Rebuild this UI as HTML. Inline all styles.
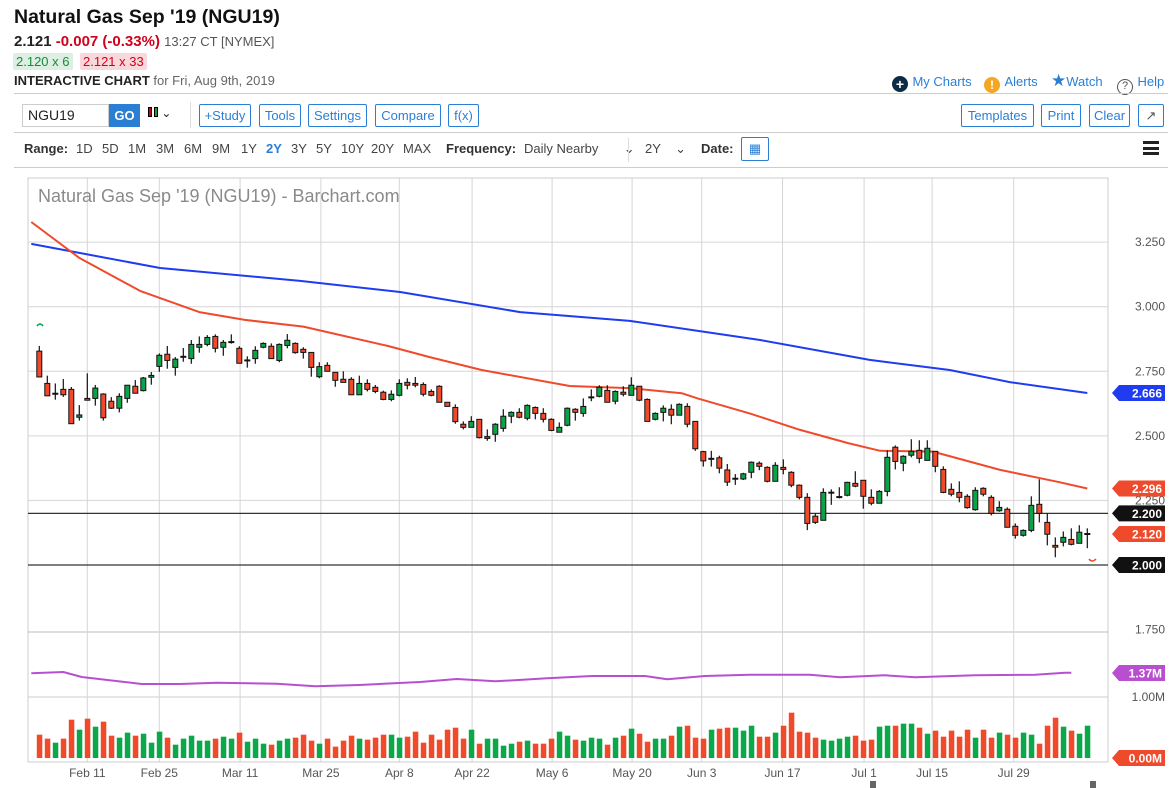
<!DOCTYPE html>
<html><head><meta charset="utf-8">
<style>
*{margin:0;padding:0;box-sizing:border-box}
body{width:1175px;height:788px;background:#fff;font-family:"Liberation Sans",sans-serif;position:relative;overflow:hidden;color:#222}
.a{position:absolute;white-space:nowrap}
.btn{position:absolute;top:104px;height:23px;border:1px solid #2a7fd5;border-radius:2px;color:#2a7fd5;font-size:13px;line-height:21px;text-align:center}
.hr{position:absolute;left:14px;width:1154px;height:1px;background:#ccc}
.rg{position:absolute;top:141px;font-size:13px;color:#444}
.lnk{color:#2a7fd5;font-size:13px}
</style></head><body>
<div class="a" style="left:14px;top:6px;font-size:19.5px;font-weight:bold;color:#111">Natural Gas Sep '19 (NGU19)</div>
<div class="a" style="left:14px;top:33px;font-size:15px"><b>2.121</b> <b style="color:#d0021b">-0.007 (-0.33%)</b> <span style="font-size:13px;color:#555">13:27 CT [NYMEX]</span></div>
<div class="a" style="left:13px;top:53px;height:17px;width:60px;padding:0 3px;background:#dcefe2;color:#1a8a3a;font-size:13px;line-height:17px;border-radius:2px">2.120 x 6</div>
<div class="a" style="left:80px;top:53px;height:17px;padding:0 3px;background:#f7d9db;color:#d0021b;font-size:13px;line-height:17px;border-radius:2px">2.121 x 33</div>
<div class="a" style="left:14px;top:73px;font-size:13px;color:#666"><b style="color:#222">INTERACTIVE CHART</b> for Fri, Aug 9th, 2019</div>
<div class="a" style="left:892px;top:73px"><span style="display:inline-block;width:16px;height:16px;border-radius:8px;background:#0d2b45;color:#fff;font-size:14px;line-height:16px;text-align:center;font-weight:bold;vertical-align:-3px">+</span> <span class="lnk">My Charts</span></div>
<div class="a" style="left:984px;top:73px"><span style="display:inline-block;width:16px;height:16px;border-radius:8px;background:#f5a623;color:#fff;font-size:12px;line-height:16px;text-align:center;font-weight:bold;vertical-align:-3px">!</span> <span class="lnk">Alerts</span></div>
<div class="a" style="left:1051px;top:71px"><span style="color:#2a7fd5;font-size:17px">★</span><span class="lnk">Watch</span></div>
<div class="a" style="left:1117px;top:73px"><span style="display:inline-block;width:16px;height:16px;border-radius:8px;border:1.5px solid #555;color:#555;font-size:11px;line-height:13px;text-align:center;vertical-align:-3px">?</span> <span class="lnk">Help</span></div>
<div class="hr" style="top:93px"></div>
<div class="a" style="left:22px;top:104px;width:87px;height:23px;border:1px solid #ccc;font-size:14px;line-height:21px;padding-left:5px">NGU19</div>
<div class="a" style="left:109px;top:104px;width:31px;height:23px;background:#2a7fd5;color:#fff;font-weight:bold;font-size:13px;line-height:23px;text-align:center">GO</div>
<div class="a" style="left:148px;top:106px;font-size:12px"><span style="display:inline-block;width:4px;height:10px;background:#d0021b;border:1px solid #000"></span><span style="display:inline-block;width:4px;height:10px;background:#1a9a48;border:1px solid #000;margin-left:2px"></span> ⌄</div>
<div class="a" style="left:190px;top:102px;width:1px;height:26px;background:#ddd"></div>
<div class="btn" style="left:199px;width:52px">+Study</div>
<div class="btn" style="left:259px;width:42px">Tools</div>
<div class="btn" style="left:308px;width:59px">Settings</div>
<div class="btn" style="left:375px;width:66px">Compare</div>
<div class="btn" style="left:448px;width:31px">f(x)</div>
<div class="btn" style="left:961px;width:73px">Templates</div>
<div class="btn" style="left:1041px;width:40px">Print</div>
<div class="btn" style="left:1089px;width:41px">Clear</div>
<div class="btn" style="left:1138px;width:26px;color:#555;border-color:#2a7fd5">↗</div>
<div class="hr" style="top:132px"></div>
<div class="rg" style="left:24px;font-weight:bold;color:#333">Range:</div>
<div class="rg" style="left:76px">1D</div>
<div class="rg" style="left:102px">5D</div>
<div class="rg" style="left:128px">1M</div>
<div class="rg" style="left:156px">3M</div>
<div class="rg" style="left:184px">6M</div>
<div class="rg" style="left:212px">9M</div>
<div class="rg" style="left:241px">1Y</div>
<div class="rg" style="left:266px;color:#2a7fd5;font-weight:bold">2Y</div>
<div class="rg" style="left:291px">3Y</div>
<div class="rg" style="left:316px">5Y</div>
<div class="rg" style="left:341px">10Y</div>
<div class="rg" style="left:371px">20Y</div>
<div class="rg" style="left:403px">MAX</div>
<div class="rg" style="left:446px;font-weight:bold;color:#333">Frequency:</div>
<div class="rg" style="left:524px">Daily Nearby &nbsp;&nbsp;&nbsp;&nbsp;&nbsp;&nbsp;⌄</div>
<div class="a" style="left:628px;top:138px;width:1px;height:24px;background:#ddd"></div>
<div class="rg" style="left:645px">2Y &nbsp;&nbsp;&nbsp;⌄</div>
<div class="rg" style="left:701px;font-weight:bold;color:#333">Date:</div>
<div class="a" style="left:741px;top:137px;width:28px;height:24px;border:1px solid #2a7fd5;border-radius:2px;font-size:13px;text-align:center;line-height:22px;color:#2a7fd5">▦</div>
<div class="a" style="left:1143px;top:141px;width:16px;height:14px;border-top:3px solid #222;border-bottom:3px solid #222"><div style="margin-top:3px;height:3px;background:#222"></div></div>
<div class="hr" style="top:167px"></div>

<svg id="chart" width="1175" height="788" style="position:absolute;left:0;top:0" xmlns="http://www.w3.org/2000/svg"></svg>
<script>
const O=[2.828,2.703,2.663,2.680,2.680,2.572,2.645,2.645,2.662,2.634,2.607,2.645,2.692,2.675,2.727,2.769,2.816,2.765,2.806,2.799,2.843,2.854,2.885,2.843,2.863,2.839,2.792,2.799,2.843,2.847,2.792,2.850,2.858,2.835,2.823,2.729,2.773,2.746,2.719,2.719,2.659,2.703,2.688,2.669,2.641,2.657,2.707,2.703,2.699,2.672,2.692,2.630,2.610,2.545,2.533,2.564,2.490,2.506,2.529,2.576,2.591,2.568,2.610,2.587,2.564,2.514,2.541,2.603,2.587,2.649,2.653,2.676,2.634,2.669,2.657,2.692,2.641,2.564,2.591,2.603,2.580,2.614,2.556,2.439,2.411,2.415,2.368,2.334,2.333,2.359,2.394,2.378,2.324,2.378,2.359,2.309,2.262,2.189,2.173,2.280,2.263,2.270,2.316,2.328,2.262,2.239,2.285,2.456,2.394,2.425,2.444,2.405,2.440,2.370,2.293,2.281,2.266,2.214,2.297,2.262,2.210,2.216,2.150,2.115,2.134,2.235,2.165,2.076,2.088,2.099,2.084,2.120];
const C=[2.728,2.655,2.663,2.659,2.547,2.581,2.638,2.685,2.570,2.607,2.653,2.696,2.665,2.724,2.734,2.812,2.792,2.797,2.806,2.854,2.854,2.881,2.839,2.862,2.863,2.781,2.792,2.831,2.858,2.799,2.854,2.870,2.822,2.823,2.765,2.768,2.750,2.715,2.707,2.659,2.703,2.680,2.672,2.641,2.661,2.703,2.696,2.696,2.661,2.657,2.630,2.614,2.555,2.533,2.556,2.493,2.497,2.545,2.576,2.591,2.572,2.618,2.587,2.564,2.521,2.533,2.607,2.591,2.614,2.649,2.688,2.630,2.672,2.661,2.696,2.638,2.556,2.587,2.607,2.580,2.622,2.545,2.450,2.403,2.411,2.375,2.321,2.334,2.353,2.398,2.382,2.324,2.386,2.370,2.309,2.262,2.161,2.165,2.281,2.280,2.263,2.320,2.305,2.266,2.239,2.285,2.417,2.401,2.421,2.440,2.413,2.452,2.382,2.281,2.274,2.262,2.222,2.289,2.274,2.200,2.223,2.146,2.115,2.134,2.231,2.200,2.119,2.069,2.107,2.080,2.127,2.120];
const H=[2.848,2.733,2.703,2.720,2.689,2.619,2.742,2.697,2.665,2.650,2.665,2.696,2.716,2.728,2.747,2.819,2.848,2.805,2.840,2.871,2.885,2.890,2.893,2.871,2.893,2.847,2.808,2.847,2.862,2.858,2.858,2.894,2.862,2.843,2.823,2.785,2.785,2.746,2.750,2.727,2.733,2.719,2.697,2.675,2.676,2.719,2.723,2.728,2.707,2.680,2.696,2.630,2.622,2.556,2.576,2.564,2.525,2.549,2.603,2.595,2.607,2.622,2.614,2.607,2.568,2.552,2.610,2.607,2.645,2.680,2.696,2.696,2.676,2.692,2.727,2.692,2.645,2.591,2.618,2.622,2.626,2.626,2.556,2.442,2.442,2.423,2.391,2.352,2.357,2.401,2.401,2.382,2.398,2.409,2.363,2.312,2.278,2.200,2.297,2.293,2.301,2.322,2.363,2.328,2.293,2.290,2.444,2.463,2.425,2.487,2.483,2.483,2.440,2.382,2.316,2.324,2.274,2.301,2.301,2.270,2.247,2.223,2.161,2.138,2.266,2.332,2.200,2.107,2.130,2.142,2.154,2.142];
const L=[2.728,2.655,2.640,2.651,2.547,2.559,2.638,2.617,2.559,2.604,2.591,2.628,2.665,2.672,2.698,2.748,2.760,2.733,2.787,2.779,2.822,2.847,2.823,2.810,2.857,2.781,2.764,2.779,2.839,2.799,2.785,2.839,2.818,2.799,2.729,2.723,2.750,2.690,2.707,2.659,2.659,2.672,2.665,2.638,2.634,2.653,2.680,2.688,2.653,2.653,2.630,2.614,2.547,2.525,2.533,2.490,2.481,2.477,2.516,2.549,2.568,2.560,2.564,2.552,2.518,2.514,2.537,2.559,2.574,2.634,2.649,2.630,2.622,2.653,2.657,2.634,2.556,2.560,2.556,2.545,2.580,2.533,2.442,2.381,2.381,2.355,2.306,2.310,2.329,2.336,2.367,2.320,2.324,2.351,2.301,2.254,2.135,2.159,2.173,2.233,2.258,2.266,2.301,2.218,2.231,2.239,2.266,2.370,2.363,2.417,2.394,2.405,2.359,2.278,2.266,2.243,2.218,2.210,2.266,2.192,2.206,2.146,2.102,2.110,2.127,2.165,2.076,2.030,2.072,2.076,2.084,2.065];
const VOL=[376,312,247,312,618,457,634,505,586,360,328,409,360,392,247,425,328,215,312,360,280,280,312,344,312,409,263,312,231,215,280,312,328,376,280,231,312,183,280,360,312,296,328,376,376,328,344,425,247,376,296,457,489,312,457,231,312,312,199,231,263,280,231,231,312,425,360,296,280,328,312,215,328,360,473,392,263,312,312,360,505,521,328,312,457,473,489,489,441,521,344,344,409,521,731,425,409,328,296,280,312,344,360,280,296,505,521,521,554,554,489,392,441,344,441,344,457,328,457,328,409,376,328,409,376,231,521,650,505,441,392,521,441];
const MA50_IDX=[-1,5,12.6,20,25.7,33,43.6,48.8,55.3,66.3,74.1,80.3,82.3,88.8,95.1,101.1,105.1,111.7,120.1,124.2,127.3,131];
const MA50_VAL=[3.328,3.189,3.061,2.979,2.949,2.923,2.848,2.805,2.755,2.693,2.684,2.665,2.645,2.587,2.523,2.472,2.442,2.439,2.368,2.342,2.322,2.296];
const MA200_IDX=[-1,15.1,32.6,45.1,60.1,73.8,90.1,103.8,113.8,121.3,131];
const MA200_VAL=[3.243,3.150,3.100,3.057,2.979,2.945,2.871,2.794,2.755,2.708,2.666];
const VMA_IDX=[-1,3,5.3,12.8,17.6,22.2,29.7,34.5,40,47.6,52.2,57,63.5,69.1,75.7,78.5,83.2,88.8,96.3,100.1,105.7,109.5,117,124.5,128.2,129];
const VMA_VAL=[1366,1387,1306,1194,1194,1215,1198,1156,1177,1226,1274,1237,1285,1323,1323,1269,1323,1344,1344,1302,1334,1302,1334,1344,1376,1376];
const PRICE_TICKS=[3.25,3.0,2.75,2.5,2.25,2.0,1.75];
const DATE_IDX=[6,15,25.1,35.2,45,54.1,64.1,74.1,82.8,92.9,103.1,111.6,121.8];
const DATE_LABELS=["Feb 11","Feb 25","Mar 11","Mar 25","Apr 8","Apr 22","May 6","May 20","Jun 3","Jun 17","Jul 1","Jul 15","Jul 29"];
const TAGS=[[2.666,"#1f3cf0"],[2.296,"#ef4a2b"],[2.200,"#111"],[2.120,"#ef4a2b"],[2.000,"#111"]];

const NS="http://www.w3.org/2000/svg";
const svg=document.getElementById('chart');
const X0=28,X1=1108,TOP=178,PB=630,VB=758;
function xOf(i){return 39.3+8*i;}
function yP(v){return 565-(v-2)*258.3;}
function yV(k){return VB-k/1000*62;}
function mk(t,a,p){const e=document.createElementNS(NS,t);for(const k in a)e.setAttribute(k,a[k]);(p||svg).appendChild(e);return e;}
let f=mk('rect',{x:X0,y:TOP,width:X1-X0,height:VB+4-TOP,fill:'none',stroke:'#ccc'});


mk('line',{x1:X0,x2:X1,y1:PB+2,y2:PB+2,stroke:'#bbb'});
mk('line',{x1:X0,x2:X1,y1:697,y2:697,stroke:'#ccc'});
PRICE_TICKS.forEach(v=>{
  const y=yP(v);
  if(v>2&&v<3.3){mk('line',{x1:X0,x2:X1,y1:y,y2:y,stroke:'#d6d6d6'});}
  const t=mk('text',{x:1165,y:y+4,'text-anchor':'end','font-size':12,fill:'#555','font-family':'Liberation Sans'});
  t.textContent=v.toFixed(3);
  
  
});
DATE_IDX.forEach((d,k)=>{
  const x=xOf(d);
  mk('line',{x1:x,x2:x,y1:TOP,y2:VB+4,stroke:'#d6d6d6'});
  const t=mk('text',{x:x,y:777,'text-anchor':'middle','font-size':12,fill:'#555','font-family':'Liberation Sans'});
  t.textContent=DATE_LABELS[k];
  
  
});
[2.2,2.0].forEach(v=>{
  const l=mk('line',{x1:X0,x2:X1,y1:yP(v),y2:yP(v),stroke:'#333','stroke-width':1.2});
  
  
});
const title=mk('text',{x:38,y:202,'font-size':18,fill:'#8a8a8a','font-family':'Liberation Sans'});
title.textContent="Natural Gas Sep '19 (NGU19) - Barchart.com";


function pathFrom(idx,val,fy){return idx.map((i,k)=>(k?'L':'M')+xOf(i).toFixed(1)+' '+fy(val[k]).toFixed(1)).join(' ');}
let p=mk('path',{d:pathFrom(MA200_IDX,MA200_VAL,yP),fill:'none',stroke:'#1f3cf0','stroke-width':2,'stroke-linejoin':'round'});


p=mk('path',{d:pathFrom(MA50_IDX,MA50_VAL,yP),fill:'none',stroke:'#ef4a2b','stroke-width':2,'stroke-linejoin':'round'});


p=mk('path',{d:pathFrom(VMA_IDX,VMA_VAL,yV),fill:'none',stroke:'#b84fd0','stroke-width':2,'stroke-linejoin':'round'});


for(let i=0;i<O.length;i++){
  const x=xOf(i),up=C[i]>O[i],dn=C[i]<O[i];
  const g=mk('g',{});
  
  
  mk('line',{x1:x,x2:x,y1:yP(H[i]),y2:yP(L[i]),stroke:'#111','stroke-width':1.2},g);
  const yt=yP(Math.max(O[i],C[i])),yb=yP(Math.min(O[i],C[i]));
  if(up||dn){
    mk('rect',{x:x-2.5,y:yt,width:5,height:Math.max(1,yb-yt),fill:up?'#0aa34a':'#ef4a2b',stroke:'#111','stroke-width':1},g);
  }else{
    mk('line',{x1:x-3,x2:x+3,y1:yt,y2:yt,stroke:'#111','stroke-width':2},g);
  }
  const v=mk('rect',{x:x-2.5,y:yV(VOL[i]),width:5.5,height:VB-yV(VOL[i]),fill:(C[i]>=O[i])?'#0aa84a':'#f04a2a'});
  
  
}
function tag(y,color,txt,name){
  const g=mk('g',{});
  
  
  mk('path',{d:`M1112 ${y} L1119 ${y-8} L1165 ${y-8} L1165 ${y+8} L1119 ${y+8} Z`,fill:color},g);
  const t=mk('text',{x:1162,y:y+4.5,'text-anchor':'end','font-size':12,fill:'#fff','font-weight':'bold','font-family':'Liberation Sans'},g);
  t.textContent=txt;
}
TAGS.forEach(t=>tag(yP(t[0]),t[1],t[0].toFixed(3),'price-tag'));
tag(yV(1370),'#b84fd0','1.37M','volume-ma-tag');
tag(VB,'#ef4a2b','0.00M','volume-tag');
const vl=mk('text',{x:1165,y:701,'text-anchor':'end','font-size':12,fill:'#555','font-family':'Liberation Sans'});
vl.textContent='1.00M';


mk('path',{d:'M37 326 Q40 322 43 326',stroke:'#0aa34a',fill:'none','stroke-width':1.5});
mk('path',{d:'M1089 559 Q1092 563 1096 559',stroke:'#ef4a2b',fill:'none','stroke-width':1.5});
[873,1093].forEach(x=>{const r=mk('rect',{x:x-3,y:781,width:6,height:8,fill:'#666'});

});
</script>
</body></html>
